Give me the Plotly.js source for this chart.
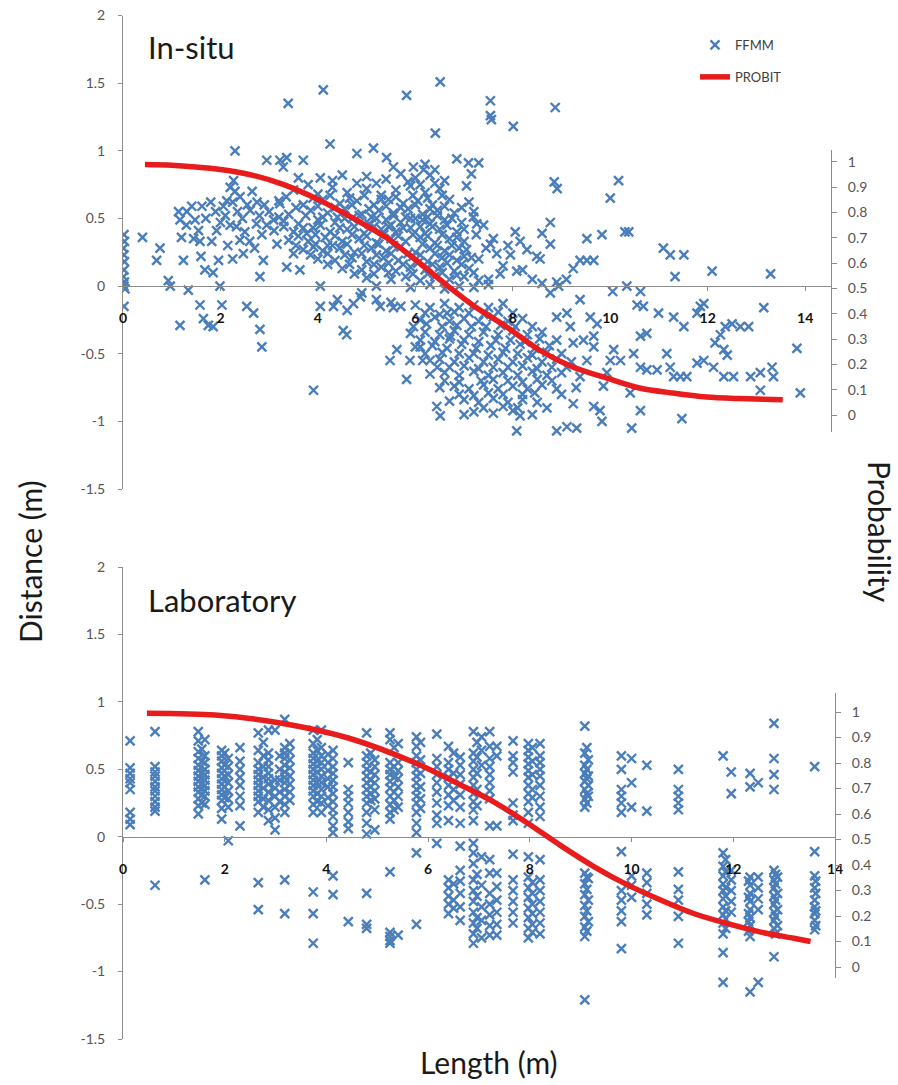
<!DOCTYPE html>
<html>
<head>
<meta charset="utf-8">
<script src="https://cdn.plot.ly/plotly-3.0.1.min.js"></script>
<style>html,body{margin:0;padding:0;background:#fff;}#chart{width:898px;height:1085px;}</style>
</head>
<body>
<div id="chart"></div>
<script>
// ---------- DATA ----------
const distTickVals = [-1.5, -1, -0.5, 0, 0.5, 1, 1.5, 2];
const distTickText = ['-1.5', '-1', '-0.5', '0', '0.5', '1', '1.5', '2'];
const probTickVals = [0, 0.1, 0.2, 0.3, 0.4, 0.5, 0.6, 0.7, 0.8, 0.9, 1];
const probTickText = ['0', '0.1', '0.2', '0.3', '0.4', '0.5', '0.6', '0.7', '0.8', '0.9', '1'];
const lengthTickVals = [0, 2, 4, 6, 8, 10, 12, 14];

// In-situ PROBIT curve (length, probability)
const probitSituX = [0.45, 1, 2, 2.67, 3.3, 4.04, 4.7, 5.41, 6.09, 6.73, 7.18, 7.88, 8.55, 9.23, 9.93, 10.6, 11.28, 11.98, 12.66, 13.54];
const probitSituP = [0.99, 0.987, 0.97, 0.947, 0.91, 0.848, 0.78, 0.70, 0.60, 0.50, 0.434, 0.347, 0.256, 0.19, 0.146, 0.107, 0.087, 0.071, 0.065, 0.06];

// Laboratory PROBIT curve
const probitLabX = [0.47, 1.81, 3.12, 4.43, 5.75, 6.63, 7.29, 7.95, 8.6, 9.25, 9.92, 10.57, 11.22, 11.89, 12.54, 13.19, 13.52];
const probitLabP = [0.995, 0.988, 0.956, 0.898, 0.80, 0.715, 0.648, 0.565, 0.477, 0.395, 0.322, 0.263, 0.21, 0.17, 0.137, 0.113, 0.10];

// In-situ FFMM points [length, distance]
const insituPoints = [
[0.02,0.38],[0.03,0.33],[0.01,0.28],[0.02,0.23],[0.03,0.18],[0.02,0.12],[0.01,0.07],[0.03,0.03],[0.02,0.0],[0.04,-0.02],[0.02,-0.15],
[0.4,0.36],
[0.76,0.28],[0.69,0.19],[0.93,0.04],[0.97,0.0],[1.14,0.55],[1.17,0.49],[1.2,0.36],[1.24,0.19],[1.17,-0.29],[1.34,-0.03],[1.31,0.55],[1.41,0.59],[1.48,0.49],[1.55,0.41],[1.58,0.33],[1.62,0.59],[1.58,-0.14],[1.68,0.12],[1.65,-0.24],[1.75,-0.29],[1.85,-0.3],[1.82,0.33],[1.92,0.41],[1.96,0.19],[1.99,0.0],[2.03,-0.14],[2.06,0.59],[2.13,0.63],[2.2,0.73],[2.27,0.78],[2.3,1.0],[2.33,0.44],[2.4,0.34],[2.47,0.24],[2.3,0.7],[2.54,-0.15],[2.68,-0.2],[2.81,-0.32],[2.85,-0.45],[2.61,0.56],[2.74,0.46],[2.81,0.07],[2.88,0.19],[2.95,0.93],[3.22,0.93],[3.29,0.88],[3.36,0.95],[3.39,1.35],[3.7,0.93],[4.11,1.45],[4.25,1.05],[3.09,0.49],[3.16,0.31],[3.22,0.61],[3.36,0.14],[3.5,0.24],[3.63,0.12],[3.77,0.39],[3.91,0.29],[4.05,0.0],[3.91,-0.77],[4.05,-0.15],[4.32,-0.15],[4.59,-0.36],[4.52,-0.33],[4.73,-0.13],[4.87,-0.08],[5.28,-0.15],[5.55,-0.16],[4.8,0.98],[5.14,1.02],[5.41,0.95],[5.82,1.41],[6.41,1.13],[6.51,1.51],[6.85,0.94],[6.17,0.86],[5.96,0.88],
[2.1,0.52],[2.2,0.45],[2.25,0.62],[2.35,0.55],[2.4,0.66],[2.45,0.5],[2.5,0.4],[2.55,0.6],[2.6,0.33],[2.65,0.7],[2.7,0.28],[2.75,0.62],[2.8,0.52],[2.85,0.38],[2.9,0.6],[2.95,0.45],[1.9,0.55],[2.0,0.47],[1.7,0.5],[1.8,0.62],[1.3,0.45],[1.45,0.35],[1.6,0.22],[1.85,0.1],[2.15,0.3],[2.25,0.2],
[3.5,0.71],[4.0,0.68],[4.3,0.73],[4.6,0.69],[5.0,0.72],[5.3,0.67],[5.6,0.71],[5.9,0.74],[6.2,0.69],[6.5,0.72],[3.8,0.75],[4.8,0.76],
[5.0,0.81],[5.4,0.79],[5.7,0.83],[6.0,0.8],[6.3,0.82],[6.6,0.78],[5.55,0.88],[6.2,0.9],[6.4,0.86],[4.5,0.82],[4.05,0.8],
[3.2,0.63],[3.7,0.6],[4.1,0.64],[4.45,0.61],[4.8,0.63],[5.15,0.6],[5.45,0.64],[5.75,0.61],[6.05,0.63],[6.35,0.6],[6.7,0.64],
[3.0,0.55],[3.4,0.53],[3.85,0.56],[4.2,0.54],[4.55,0.57],[4.9,0.53],[5.25,0.56],[5.55,0.54],[5.85,0.57],[6.15,0.53],[6.45,0.56],[6.8,0.54],
[3.3,0.48],[3.6,0.46],[4.0,0.49],[4.35,0.47],[4.7,0.5],[5.05,0.46],[5.4,0.49],[5.7,0.47],[6.0,0.5],[6.3,0.46],[6.6,0.49],[6.95,0.47],
[3.1,0.41],[3.5,0.4],[3.9,0.43],[4.25,0.4],[4.6,0.42],[4.95,0.39],[5.3,0.42],[5.6,0.4],[5.9,0.43],[6.2,0.39],[6.5,0.42],[6.85,0.4],
[3.4,0.34],[3.8,0.33],[4.15,0.36],[4.5,0.33],[4.85,0.35],[5.2,0.32],[5.5,0.35],[5.8,0.33],[6.1,0.36],[6.4,0.32],[6.7,0.35],[7.0,0.33],
[3.7,0.27],[4.1,0.26],[4.45,0.28],[4.75,0.25],[5.1,0.28],[5.4,0.26],[5.7,0.29],[6.0,0.25],[6.3,0.28],[6.6,0.26],[6.9,0.28],
[4.0,0.2],[4.35,0.19],[4.7,0.21],[5.0,0.18],[5.35,0.21],[5.65,0.19],[5.95,0.22],[6.25,0.18],[6.55,0.21],[6.85,0.19],[7.15,0.21],
[4.5,0.13],[4.9,0.12],[5.3,0.14],[5.6,0.11],[5.9,0.14],[6.2,0.12],[6.5,0.14],[6.8,0.11],[7.1,0.13],
[5.0,0.06],[5.5,0.05],[5.8,0.07],[6.1,0.04],[6.4,0.07],[6.7,0.05],[7.0,0.07],[7.3,0.04],
[5.2,0.0],[5.9,-0.01],[6.3,0.01],[6.6,-0.02],[6.9,0.0],[7.2,-0.01],[7.5,0.01],
[4.4,0.51],[4.75,0.44],[5.1,0.51],[5.45,0.44],[5.8,0.51],[6.1,0.44],[5.0,0.37],[5.65,0.37],[6.25,0.51],[4.2,0.3],[5.85,0.24],[6.45,0.3],
[3.35,0.66],[3.9,0.65],[4.25,0.67],[4.65,0.65],[4.95,0.67],[5.3,0.64],[5.6,0.66],[5.95,0.67],[6.25,0.65],[6.55,0.67],
[3.55,0.58],[4.0,0.59],[4.35,0.58],[4.7,0.6],[5.05,0.57],[5.4,0.59],[5.7,0.58],[6.0,0.6],[6.3,0.57],[6.6,0.59],[6.95,0.58],
[3.2,0.51],[3.75,0.52],[4.1,0.51],[4.55,0.5],[4.85,0.52],[5.2,0.5],[5.55,0.52],[5.9,0.5],[6.15,0.49],[6.45,0.52],[6.75,0.5],
[3.3,0.44],[3.7,0.43],[4.05,0.45],[4.45,0.43],[5.15,0.44],[5.5,0.45],[5.75,0.43],[6.35,0.44],[6.65,0.45],[7.0,0.42],
[3.6,0.37],[3.95,0.38],[4.35,0.37],[4.7,0.38],[5.35,0.38],[5.95,0.38],[6.25,0.37],[6.55,0.38],[6.85,0.36],
[3.55,0.3],[3.95,0.31],[4.3,0.3],[4.6,0.31],[4.95,0.3],[5.25,0.31],[5.55,0.3],[6.15,0.31],[6.75,0.3],[7.05,0.27],
[3.85,0.23],[4.2,0.24],[4.55,0.23],[4.9,0.24],[5.2,0.23],[5.5,0.24],[6.1,0.23],[6.4,0.24],[6.7,0.23],[7.0,0.22],
[4.2,0.16],[4.65,0.16],[5.15,0.16],[5.45,0.17],[5.75,0.16],[6.05,0.17],[6.35,0.16],[6.65,0.17],[6.95,0.16],
[4.75,0.09],[5.15,0.09],[5.45,0.1],[5.95,0.09],[6.25,0.09],[6.55,0.1],[6.85,0.08],[7.2,0.1],
[5.2,0.76],[5.85,0.77],[6.1,0.75],[6.4,0.76],[4.3,0.78],[3.6,0.8],
[7.2,0.55],[7.4,0.45],[7.6,0.35],[7.3,0.2],[7.8,0.15],[7.5,0.05],[7.9,0.3],[8.2,0.12],[8.4,0.05],[8.6,0.02],[8.9,0.03],[9.1,0.05],[7.1,0.62],[7.25,0.38],[7.45,0.28],[7.05,0.74],[7.15,0.83],
[7.54,1.37],[7.54,1.26],[7.56,1.23],[8.87,1.32],[8.01,1.18],[7.09,0.91],[7.3,0.91],[8.85,0.77],[8.91,0.72],[10.17,0.78],[10.0,0.65],[9.52,0.35],[9.83,0.38],[10.3,0.4],[10.38,0.4],[8.77,0.47],[8.6,0.39],[8.77,0.31],[8.05,0.4],[8.15,0.33],[7.95,0.23],[8.29,0.27],[8.49,0.22],[8.56,0.2],[8.08,0.11],[9.38,0.19],[9.52,0.19],[9.66,0.19],[9.24,0.13],[11.09,0.28],[11.23,0.23],[11.51,0.23],[11.33,0.07],[12.09,0.11],[13.29,0.09],[7.19,0.51],[7.26,0.46],[7.54,0.31],[7.67,0.24],[7.74,0.09],
[8.94,0.0],[8.77,-0.05],[9.38,-0.1],[10.05,-0.04],[10.34,0.0],[10.62,-0.04],[10.55,-0.14],[10.68,-0.15],[10.99,-0.2],[11.3,-0.23],[11.51,-0.3],[11.92,-0.13],[11.85,-0.15],[11.78,-0.2],[12.5,-0.28],[12.36,-0.3],[12.67,-0.3],[12.84,-0.3],[12.26,-0.36],[12.15,-0.42],[12.33,-0.47],[12.4,-0.51],[13.15,-0.16],[13.83,-0.46],[13.9,-0.79],[13.08,-0.77],[13.32,-0.6],[13.35,-0.67],[13.08,-0.64],[12.88,-0.67],[12.53,-0.67],[12.33,-0.67],[12.12,-0.6],[11.92,-0.55],[11.78,-0.57],[11.57,-0.67],[11.44,-0.67],[11.3,-0.67],[11.47,-0.98],[11.16,-0.5],[11.23,-0.6],[10.96,-0.62],[10.75,-0.62],[10.62,-0.6],[10.48,-0.5],[10.62,-0.37],[10.75,-0.35],[10.41,-0.79],[10.62,-0.92],[10.44,-1.05],[10.21,-0.55],[10.07,-0.47],[10.0,-0.55],[9.93,-0.64],[9.86,-0.74],[9.79,-0.92],[9.83,-1.0],[9.66,-0.89],[9.31,-1.05],[9.11,-1.04],[8.9,-1.07],[8.08,-1.07],[8.15,-0.96],[9.24,-0.87],[9.38,-0.67],[9.52,-0.55],[9.66,-0.45],[9.45,-0.4],[9.24,-0.42],[9.18,-0.3],[9.11,-0.2],[8.9,-0.23],[9.59,-0.23],[9.73,-0.28],[9.66,-0.37],
[5.62,-0.47],[5.48,-0.55],[5.82,-0.69],[5.89,-0.55],[6.1,-0.45],[6.3,-0.55],[6.44,-0.89],[6.51,-0.96],[5.96,-0.3],[6.23,-0.28],[6.72,-0.37],
[4.4,-0.1],[4.9,-0.05],[5.2,-0.1],[5.5,-0.12],[4.6,-0.18],
[5.7,-0.15],[6.0,-0.14],[6.3,-0.16],[6.6,-0.13],[6.9,-0.16],[7.2,-0.14],[7.5,-0.16],[7.8,-0.13],
[6.1,-0.25],[6.4,-0.23],[6.7,-0.26],[7.0,-0.24],[7.3,-0.26],[7.6,-0.23],[7.9,-0.26],[8.2,-0.24],
[5.9,-0.35],[6.2,-0.34],[6.5,-0.36],[6.8,-0.33],[7.1,-0.36],[7.4,-0.34],[7.7,-0.36],[8.0,-0.33],[8.3,-0.36],[8.6,-0.34],
[6.0,-0.45],[6.35,-0.44],[6.65,-0.46],[6.95,-0.43],[7.25,-0.46],[7.55,-0.44],[7.85,-0.46],[8.15,-0.43],[8.45,-0.46],[8.75,-0.44],
[6.15,-0.55],[6.5,-0.54],[6.8,-0.56],[7.1,-0.53],[7.4,-0.56],[7.7,-0.54],[8.0,-0.56],[8.3,-0.53],[8.6,-0.56],[8.9,-0.54],[9.2,-0.56],
[6.3,-0.65],[6.6,-0.64],[6.9,-0.66],[7.2,-0.63],[7.5,-0.66],[7.8,-0.64],[8.1,-0.66],[8.4,-0.63],[8.7,-0.66],[9.0,-0.64],
[6.5,-0.75],[6.8,-0.74],[7.1,-0.76],[7.4,-0.73],[7.7,-0.76],[8.0,-0.74],[8.3,-0.76],[8.6,-0.73],[8.9,-0.76],
[6.7,-0.85],[7.0,-0.84],[7.3,-0.86],[7.6,-0.83],[7.9,-0.86],[8.2,-0.84],[8.5,-0.86],
[7.2,-0.93],[7.6,-0.94],[8.0,-0.92],[8.4,-0.95],
[6.65,-0.2],[7.15,-0.3],[7.65,-0.4],[6.9,-0.5],[7.9,-0.6],[7.35,-0.7],[8.2,-0.8],[6.45,-0.6],[7.0,-0.95],[8.7,-0.9],[9.0,-0.8],[9.3,-0.75],[8.8,-0.6],
[6.2,-0.2],[6.5,-0.21],[6.8,-0.19],[7.1,-0.2],[7.4,-0.21],[7.7,-0.19],[8.0,-0.2],
[6.55,-0.3],[6.85,-0.29],[7.45,-0.3],[7.75,-0.29],[8.05,-0.3],[8.4,-0.3],
[6.1,-0.4],[6.4,-0.41],[6.7,-0.39],[7.0,-0.4],[7.3,-0.41],[7.95,-0.4],[8.25,-0.41],[8.55,-0.39],[8.9,-0.4],
[6.2,-0.5],[6.55,-0.49],[7.2,-0.5],[7.5,-0.51],[7.8,-0.49],[8.1,-0.5],[8.4,-0.51],[8.7,-0.49],[9.0,-0.5],
[6.7,-0.6],[7.0,-0.59],[7.3,-0.61],[7.6,-0.6],[8.2,-0.59],[8.5,-0.61],[9.1,-0.6],
[6.6,-0.7],[6.9,-0.71],[7.6,-0.69],[7.9,-0.7],[8.2,-0.71],[8.5,-0.69],[8.8,-0.7],
[6.9,-0.8],[7.2,-0.81],[7.5,-0.79],[7.8,-0.8],[8.45,-0.79],
[7.4,-0.9],[7.8,-0.89],[8.1,-0.9]
];

// Laboratory FFMM points, by column: [length, [distances]]
const labColumns = [
[0.14,[0.71,0.51,0.47,0.43,0.40,0.35,0.18,0.13,0.09]],
[0.63,[0.78,0.52,0.48,0.45,0.41,0.37,0.34,0.30,0.26,0.22,0.19,-0.36]],
[1.48,[0.78,0.71,0.63,0.58,0.53,0.49,0.45,0.41,0.37,0.33,0.28,0.23,0.17]],
[1.55,[0.65,0.56,0.47,0.39,0.31,0.25]],
[1.61,[0.72,0.60,0.55,0.50,0.46,0.42,0.38,0.34,0.30,0.24,-0.32]],
[1.94,[0.64,0.60,0.56,0.51,0.47,0.43,0.39,0.35,0.31,0.27,0.21,0.13]],
[2.0,[0.62,0.53,0.45,0.37,0.29]],
[2.07,[0.58,0.52,0.46,0.40,0.34,0.28,0.22,-0.03]],
[2.3,[0.66,0.56,0.50,0.44,0.38,0.30,0.23,0.08]],
[2.66,[0.77,0.64,0.55,0.50,0.46,0.42,0.38,0.34,0.30,0.26,0.18,-0.34,-0.54]],
[2.76,[0.70,0.60,0.52,0.44,0.36,0.28,0.22]],
[2.86,[0.79,0.62,0.57,0.52,0.47,0.43,0.39,0.33,0.27,0.20,0.12]],
[2.99,[0.79,0.42,0.36,0.30,0.22,0.14,0.05]],
[3.08,[0.60,0.50,0.42,0.33,0.26]],
[3.18,[0.87,0.66,0.62,0.58,0.53,0.48,0.44,0.40,0.35,0.30,0.24,0.18,-0.32,-0.57]],
[3.28,[0.69,0.63,0.57,0.51,0.45,0.39,0.33,0.27]],
[3.74,[0.79,0.69,0.62,0.58,0.54,0.50,0.46,0.42,0.38,0.34,0.30,0.24,0.18,-0.41,-0.57,-0.79]],
[3.82,[0.72,0.64,0.56,0.48,0.40,0.32,0.26]],
[3.9,[0.79,0.66,0.60,0.55,0.50,0.45,0.40,0.35,0.30,0.25,0.18]],
[4.03,[0.61,0.55,0.49,0.43,0.37,0.29,0.23]],
[4.13,[0.64,0.58,0.52,0.47,0.42,0.37,0.32,0.26,0.20,0.15,0.08,0.03,-0.29,-0.43]],
[4.43,[0.55,0.35,0.30,0.25,0.18,0.11,0.06,-0.63]],
[4.79,[0.77,0.60,0.55,0.50,0.45,0.40,0.35,0.30,0.25,0.18,0.10,0.02,-0.42,-0.65,-0.68]],
[4.87,[0.62,0.48,0.42,0.37,0.32,0.27]],
[4.95,[0.57,0.52,0.46,0.40,0.34,0.28,0.20,0.05]],
[5.25,[0.77,0.72,0.55,0.50,0.46,0.41,0.36,0.30,0.24,0.18,0.13,-0.26,-0.71,-0.74,-0.77,-0.79]],
[5.33,[0.66,0.52,0.44,0.33,0.27,0.20]],
[5.41,[0.69,0.55,0.49,0.43,0.37,0.30,0.22,-0.73]],
[5.77,[0.74,0.67,0.60,0.55,0.50,0.45,0.40,0.35,0.30,0.25,0.18,0.10,0.03,-0.12,-0.65]],
[5.85,[0.70,0.57,0.47,0.37,0.28,0.21]],
[6.17,[0.76,0.58,0.52,0.46,0.40,0.33,0.25,0.16,0.10,-0.05]],
[6.4,[0.67,0.55,0.50,0.44,0.38,0.31,0.23,0.12,-0.32,-0.38,-0.44,-0.50,-0.57]],
[6.5,[0.62,0.47,0.35,0.27,-0.35,-0.47,-0.53]],
[6.63,[0.59,0.53,0.46,0.39,0.31,0.22,0.10,-0.07,-0.25,-0.33,-0.42,-0.52,-0.62]],
[6.89,[0.78,0.62,0.56,0.50,0.44,0.38,0.32,0.26,0.20,0.12,-0.05,-0.12,-0.20,-0.32,-0.40,-0.48,-0.56,-0.64,-0.72,-0.79]],
[6.96,[0.70,0.59,0.47,0.35,0.23,-0.28,-0.44,-0.60,-0.68]],
[7.05,[0.74,0.64,0.53,-0.15,-0.36,-0.52,-0.62,-0.75]],
[7.21,[0.78,0.67,0.58,0.52,0.46,0.40,0.34,0.28,0.08,-0.17,-0.27,-0.42,-0.50,-0.58,-0.66,-0.73]],
[7.35,[0.67,0.60,0.08,-0.27,-0.37,-0.47,-0.56,-0.65,-0.73]],
[7.67,[0.71,0.60,0.55,0.48,0.25,0.16,0.12,-0.13,-0.32,-0.40,-0.48,-0.56,-0.64]],
[7.97,[0.69,0.64,0.59,0.54,0.49,0.44,0.38,0.32,0.26,0.18,0.10,-0.15,-0.30,-0.38,-0.45,-0.53,-0.60,-0.68,-0.75]],
[8.05,[0.66,0.56,0.46,0.35,0.29,-0.34,-0.42,-0.50,-0.57,-0.65,-0.71]],
[8.2,[0.69,0.60,0.55,0.50,0.45,0.38,0.30,0.22,0.15,-0.17,-0.32,-0.40,-0.48,-0.56,-0.64,-0.72]],
[9.08,[0.82,0.62,0.53,0.47,0.41,0.35,0.28,0.22,-0.27,-0.35,-0.43,-0.51,-0.59,-0.67,-0.74,-1.21]],
[9.12,[0.66,0.50,0.43,0.32,0.25,-0.30,-0.39,-0.55,-0.70]],
[9.15,[0.57,0.45,0.38,0.30,-0.31,-0.47,-0.63]],
[9.8,[0.60,0.50,0.35,0.30,0.25,0.18,-0.11,-0.40,-0.47,-0.55,-0.63,-0.83]],
[10.0,[0.58,0.40,0.22,-0.29,-0.36,-0.45]],
[10.3,[0.53,0.19,-0.27,-0.34,-0.42,-0.50,-0.58]],
[10.92,[0.50,0.35,0.30,0.25,0.20,-0.26,-0.39,-0.47,-0.59,-0.79]],
[11.8,[0.60,-0.12,-0.22,-0.29,-0.35,-0.40,-0.46,-0.52,-0.58,-0.64,-0.72,-0.86,-1.08]],
[11.85,[-0.17,-0.26,-0.38,-0.44,-0.55,-0.61,-0.68]],
[11.96,[0.48,0.32,-0.25,-0.32,-0.40,-0.48,-0.56]],
[12.3,[-0.33,-0.45,-0.57,-0.63,-0.70]],
[12.33,[0.47,0.37,-0.30,-0.36,-0.42,-0.48,-0.54,-0.60,-0.66,-0.74,-1.15]],
[12.49,[0.40,-0.30,-0.38,-0.46,-0.54,-1.08]],
[12.8,[0.84,0.58,0.46,0.35,-0.25,-0.32,-0.38,-0.44,-0.50,-0.56,-0.62,-0.68,-0.89]],
[12.83,[-0.28,-0.35,-0.47,-0.59,-0.72]],
[12.87,[-0.30,-0.42,-0.54,-0.66]],
[13.6,[0.52,-0.11,-0.29,-0.38,-0.47,-0.52,-0.57,-0.62,-0.69]],
[13.62,[-0.33,-0.42,-0.55,-0.66]]
];

// ---------- BUILD ----------
const W = 898, H = 1085;
const fx = px => px / W;
const fy = py => 1 - py / H;

const situX = insituPoints.map(p => p[0]);
const situY = insituPoints.map(p => p[1]);
const labX = [], labY = [];
labColumns.forEach(c => c[1].forEach(v => { labX.push(c[0]); labY.push(v); }));

const blue = '#4a7ebb';
const red = 'rgb(232,28,28)';
const axisGray = '#8c8c8c';
const FONT = 'Lato, "Open Sans", sans-serif';

const marker = { symbol: 'x-thin-open', size: 9, color: blue, line: { width: 2.4, color: blue } };

const traces = [
  { type: 'scatter', mode: 'markers', name: 'FFMM', x: situX, y: situY, xaxis: 'x', yaxis: 'y',
    marker: marker, legendgroup: 'a', showlegend: true, hoverinfo: 'skip' },
  { type: 'scatter', mode: 'lines', name: 'PROBIT', x: probitSituX, y: probitSituP, xaxis: 'x', yaxis: 'y2',
    line: { color: red, width: 5.5, shape: 'spline', smoothing: 0.8 }, legendgroup: 'b', showlegend: true, hoverinfo: 'skip' },
  { type: 'scatter', mode: 'markers', name: 'FFMM', x: labX, y: labY, xaxis: 'x2', yaxis: 'y3',
    marker: marker, showlegend: false, hoverinfo: 'skip' },
  { type: 'scatter', mode: 'lines', name: 'PROBIT', x: probitLabX, y: probitLabP, xaxis: 'x2', yaxis: 'y4',
    line: { color: red, width: 5.5, shape: 'spline', smoothing: 0.8 }, showlegend: false, hoverinfo: 'skip' }
];

const leftAxis = (domain) => ({
  domain: domain, range: [-1.5, 2], tickvals: distTickVals, ticktext: distTickText,
  showgrid: false, zeroline: false, showline: true, linecolor: axisGray, linewidth: 1,
  ticks: 'outside', ticklen: 4, tickcolor: axisGray, ticklabelstandoff: 10,
  tickfont: { family: FONT, size: 14, color: '#555555' }
});
const rightAxis = (domain, range, anchor) => ({
  domain: domain, range: range, anchor: anchor, side: 'right', tickvals: probTickVals, ticktext: probTickText,
  showgrid: false, zeroline: false, showline: true, linecolor: axisGray, linewidth: 1,
  ticks: 'outside', ticklen: 5, tickcolor: axisGray, ticklabelstandoff: 8,
  tickfont: { family: FONT, size: 14, color: '#555555' }
});
const lengthAxis = (domain, range, pos) => ({
  domain: domain, range: range, anchor: 'free', position: pos, tickvals: lengthTickVals,
  showgrid: false, zeroline: false, showline: true, linecolor: axisGray, linewidth: 1,
  ticks: 'outside', ticklen: 4, tickcolor: axisGray, ticklabelstandoff: 15,
  tickfont: { family: FONT, size: 14, color: '#111111', weight: 'bold' }
});

const layout = {
  width: W, height: H,
  margin: { l: 0, r: 0, t: 0, b: 0 },
  paper_bgcolor: '#ffffff', plot_bgcolor: 'rgba(0,0,0,0)',
  font: { family: FONT },
  xaxis: lengthAxis([fx(123), fx(831)], [0, 14.53], fy(286)),
  yaxis: Object.assign(leftAxis([fy(489), fy(15.5)]), { anchor: 'x' }),
  yaxis2: rightAxis([fy(432), fy(150)], [-0.067, 1.047], 'x'),
  xaxis2: lengthAxis([fx(123), fx(835)], [0, 14], fy(837)),
  yaxis3: Object.assign(leftAxis([fy(1039), fy(567)]), { anchor: 'x2' }),
  yaxis4: rightAxis([fy(978), fy(693)], [-0.043, 1.0745], 'x2'),
  showlegend: true,
  legend: {
    x: fx(695), y: fy(30), xanchor: 'left', yanchor: 'top',
    traceorder: 'grouped', tracegroupgap: 12,
    bgcolor: 'rgba(255,255,255,0)', borderwidth: 0,
    font: { family: FONT, size: 13, color: '#404040' }
  },
  annotations: [
    { text: 'In-situ', xref: 'paper', yref: 'paper', x: fx(146), y: fy(47), xanchor: 'left', yanchor: 'middle',
      showarrow: false, font: { family: FONT, size: 31, color: '#1a1a1a' } },
    { text: 'Laboratory', xref: 'paper', yref: 'paper', x: fx(146), y: fy(600), xanchor: 'left', yanchor: 'middle',
      showarrow: false, font: { family: FONT, size: 31, color: '#1a1a1a' } },
    { text: 'Distance (m)', xref: 'paper', yref: 'paper', x: fx(30), y: fy(562), xanchor: 'center', yanchor: 'middle',
      textangle: -90, showarrow: false, font: { family: FONT, size: 30, color: '#1a1a1a' } },
    { text: 'Probability', xref: 'paper', yref: 'paper', x: fx(880), y: fy(532), xanchor: 'center', yanchor: 'middle',
      textangle: 90, showarrow: false, font: { family: FONT, size: 30, color: '#1a1a1a' } },
    { text: 'Length (m)', xref: 'paper', yref: 'paper', x: fx(489), y: fy(1062), xanchor: 'center', yanchor: 'middle',
      showarrow: false, font: { family: FONT, size: 30, color: '#1a1a1a' } }
  ]
};

Plotly.newPlot('chart', traces, layout, { staticPlot: true, displayModeBar: false });
</script>
</body>
</html>
